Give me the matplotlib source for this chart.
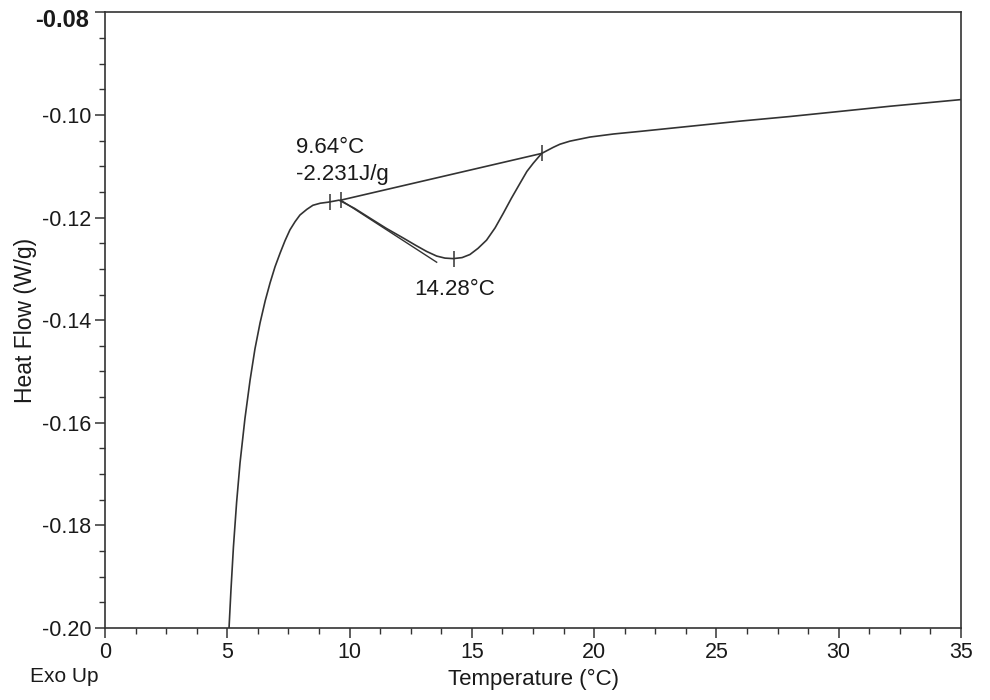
#!/usr/bin/env python3

"""
DSC heat flow curve with onset / peak annotations.
"""

import matplotlib
matplotlib.use("Agg")
import matplotlib.pyplot as plt
from matplotlib.ticker import MultipleLocator

plt.rcParams["font.family"] = ["Liberation Sans", "DejaVu Sans"]

# Heat flow trace
temperature = [5.07, 5.15, 5.25, 5.38, 5.52, 5.72, 5.93, 6.13, 6.34, 6.55,
               6.75, 6.95, 7.16, 7.36, 7.56, 7.77, 7.97, 8.25, 8.50, 8.80,
               9.12, 9.35, 9.57, 10.2, 10.83, 11.5, 12.20, 12.7, 13.15, 13.56,
               13.9, 14.24, 14.6, 14.92, 15.25, 15.60, 15.95, 16.28, 16.62,
               16.97, 17.25, 17.51, 17.85, 18.33, 18.60, 19.01, 19.83, 20.8,
               21.87, 23.92, 25.96, 28.00, 30.05, 32.09, 35.0]
heat_flow = [-0.2000, -0.1925, -0.1842, -0.1755, -0.1678, -0.1592, -0.1517,
             -0.1456, -0.1405, -0.1362, -0.1327, -0.1296, -0.1269, -0.1245,
             -0.1224, -0.1208, -0.1195, -0.1184, -0.1176, -0.1172, -0.1170,
             -0.1168, -0.1166, -0.1182, -0.1201, -0.1221, -0.1240, -0.1254,
             -0.1266, -0.1275, -0.1279, -0.1280, -0.1278, -0.1272, -0.1260,
             -0.1244, -0.1220, -0.1192, -0.1162, -0.1133, -0.1110, -0.1094,
             -0.1075, -0.1063, -0.1057, -0.1051, -0.1043, -0.1037, -0.1032,
             -0.1022, -0.1012, -0.1003, -0.0993, -0.0983, -0.0970]

# integration baseline and onset tangent
baseline_x = [9.64, 17.85]
baseline_y = [-0.1166, -0.1075]
tangent_x = [9.64, 13.56]
tangent_y = [-0.1166, -0.1287]

# small vertical markers on the curve
marker_x = [9.20, 9.64, 14.28, 17.85]
marker_y = [-0.1169, -0.1166, -0.1280, -0.1075]

onset_label = "9.64°C\n-2.231J/g"
peak_label = "14.28°C"
peak_x = 14.28

xticks = [0, 5, 10, 15, 20, 25, 30, 35]
yticks = [-0.20, -0.18, -0.16, -0.14, -0.12, -0.10, -0.08]

line_color = "#333333"
text_color = "#1a1a1a"

fig = plt.figure(figsize=(9.9, 7), dpi=100)
ax = fig.add_axes([0.1061, 0.1029, 0.8646, 0.8794])

ax.plot(temperature, heat_flow, color=line_color, lw=1.2)
ax.plot(baseline_x, baseline_y, color=line_color, lw=1.2)
ax.plot(tangent_x, tangent_y, color=line_color, lw=1.0)
ax.plot(marker_x, marker_y, ls="none", marker="|", markersize=12,
        markeredgewidth=1.1, color=line_color)

# va="baseline" on multi-line text pins the last line
ax.text(7.79, -0.11267, onset_label, fontsize=16, color=text_color,
        ha="left", va="baseline", linespacing=1.4)
ax.text(peak_x, -0.1351, peak_label, fontsize=16, color=text_color,
        ha="center", va="baseline")

ax.set_xlim(0, 35)
ax.set_ylim(-0.20, -0.08)

ax.xaxis.set_minor_locator(MultipleLocator(1.25))
ax.yaxis.set_minor_locator(MultipleLocator(0.005))
ax.set_xticks(xticks)
ax.set_yticks(yticks)
# top label is drawn separately (bold, nudged down like the original)
ax.set_yticklabels([f"{v:.2f}" for v in yticks[:-1]] + [""])

ax.tick_params(which="major", length=7, width=1.1, color=line_color,
               labelsize=15.5, labelcolor=text_color, direction="out")
ax.tick_params(which="minor", length=4, width=1.0, color=line_color,
               direction="out")
ax.tick_params(axis="y", pad=3)
ax.tick_params(axis="x", pad=3)

ax.annotate(f"{yticks[-1]:.2f}", xy=(0, yticks[-1]),
            xycoords=("axes fraction", "data"), xytext=(-11.5, -5.5),
            textcoords="offset points", ha="right", va="center",
            fontsize=17, fontweight="bold", color=text_color,
            annotation_clip=False)

for side in ax.spines.values():
    side.set_color(line_color)
    side.set_linewidth(1.2)

ax.set_xlabel("Temperature (°C)", fontsize=16, color=text_color, labelpad=4)
ax.set_ylabel("Heat Flow (W/g)", fontsize=16.5, color=text_color, labelpad=3)

fig.text(0.030, 0.0257, "Exo Up", fontsize=15, color=text_color,
         ha="left", va="baseline")

fig.savefig("out.png", dpi=100)
plt.close(fig)
